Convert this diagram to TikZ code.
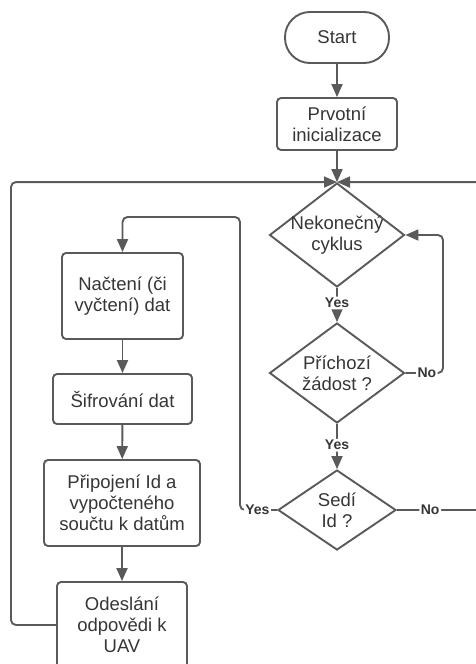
\documentclass[tikz,border=0pt]{standalone}
\usepackage{fontspec}
\setmainfont{Liberation Sans}
\usetikzlibrary{arrows.meta,shapes.geometric}

\definecolor{linec}{HTML}{5A5A5A}
\definecolor{textc}{HTML}{363636}

\tikzset{
  flow/.style={draw=linec, line width=1.9pt},
  arr/.style={flow, -{Triangle[length=13pt,width=11pt]}, rounded corners=5pt},
  procbox/.style={flow, rectangle, rounded corners=4pt, inner sep=0pt, align=center,
    text=textc, font=\fontsize{18.5}{21}\selectfont},
  termbox/.style={procbox, rounded corners=25pt},
  decision/.style={flow, diamond, inner sep=0pt},
  dectext/.style={align=center, text=textc, font=\fontsize{18.5}{21}\selectfont},
  edgelab/.style={fill=white, inner sep=1.5pt, text=textc,
    font=\fontsize{14}{15}\selectfont\bfseries},
}

\begin{document}
\begin{tikzpicture}[x=1pt,y=-1pt]
  \useasboundingbox (0,0) rectangle (476,664);
  \clip (0,0) rectangle (476,664);
  \fill[white] (0,0) rectangle (476,664);

  % main column
  \node[termbox, minimum width=104pt, minimum height=51pt] (start) at (337,37.5) {Start};
  \node[procbox, minimum width=120pt, minimum height=52pt] (init) at (337,124) {Prvotní\\inicializace};
  \node[decision, minimum width=135pt, minimum height=104pt,
        label={[dectext]center:Nekonečný\\cyklus}] (nek) at (337,235) {};
  \node[decision, minimum width=135pt, minimum height=100pt,
        label={[dectext]center:Příchozí\\žádost ?}] (pri) at (337,373) {};
  \node[decision, minimum width=118pt, minimum height=80pt,
        label={[dectext]center:Sedí\\Id ?}] (sed) at (337,510) {};

  % left column
  \node[procbox, minimum width=121pt, minimum height=86pt] (nac) at (122.5,296) {Načtení (či\\vyčtení) dat};
  \node[procbox, minimum width=139pt, minimum height=50pt] (sif) at (122.5,399) {Šifrování dat};
  \node[procbox, minimum width=156pt, minimum height=86pt] (pripoj) at (122,503) {Připojení Id a\\vypočteného\\součtu k datům};
  \node[procbox, minimum width=130pt, minimum height=86pt] (ode) at (122,625) {Odeslání\\odpovědi k\\UAV};

  % routing points for the loops
  \coordinate (cR) at (443,0);
  \coordinate (cL) at (240,217);
  \coordinate (cFar) at (492,0);
  \coordinate (cLL) at (11,0);

  % connectors
  \draw[arr] (start) -- (init);
  \draw[arr] (init) -- (nek.north);
  \draw[arr] (nek.south) -- node[edgelab, pos=0.44] {Yes} (pri.north);
  \draw[arr] (pri.east) -- node[edgelab, pos=0.57] {No} (pri.east -| cR) |- (nek.east);
  \draw[arr] (pri.south) -- node[edgelab, pos=0.47] {Yes} (sed.north);
  \draw[arr] (sed.west) -- node[edgelab, pos=0.53] {Yes} (sed.west -| cL) -- (cL) -| (nac.north);
  \draw[arr] (sed.east) -- node[edgelab, pos=0.35] {No} (sed.east -| cFar) |- (nek.north);
  \draw[arr] (nac) -- (sif);
  \draw[arr] (sif) -- (pripoj);
  \draw[arr] (pripoj) -- (ode);
  \draw[arr] (ode.west) -- (ode.west -| cLL) |- (nek.north);
\end{tikzpicture}
\end{document}
